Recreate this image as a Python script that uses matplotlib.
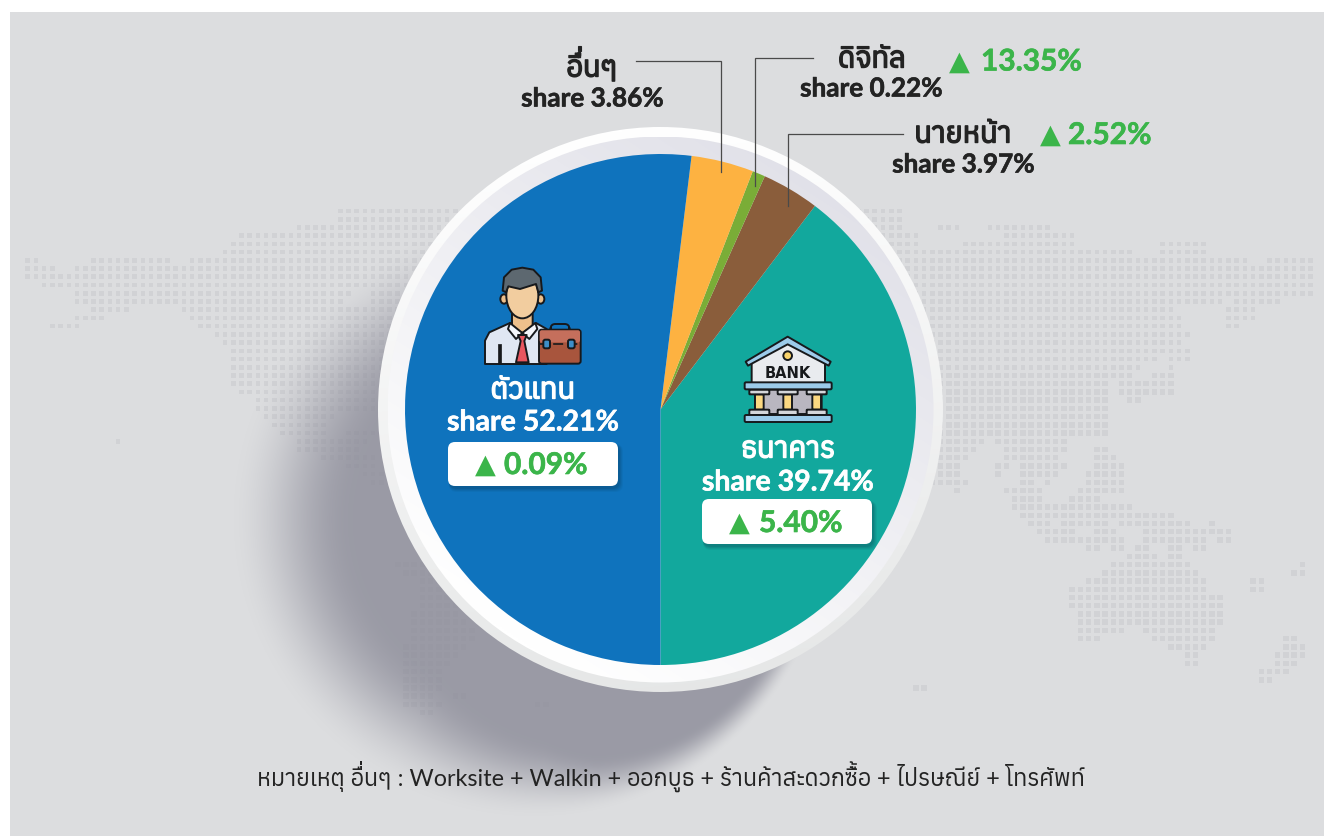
import numpy as np
import matplotlib
matplotlib.use('Agg')
import matplotlib.pyplot as plt
from matplotlib.patches import Circle, FancyBboxPatch, Polygon, Ellipse, PathPatch
from matplotlib.textpath import TextPath
from matplotlib.font_manager import FontProperties
from matplotlib.transforms import Affine2D
import matplotlib.patheffects as pe

W, H = 1324, 837

# ---------- data ----------
categories = ['ธนาคาร', 'นายหน้า', 'ดิจิทัล', 'อื่นๆ', 'ตัวแทน']
share_labels = ['39.74', '3.97', '0.22', '3.86', '52.21']
growth_labels = ['5.40', '2.52', '13.35', None, '0.09']
drawn_share = [39.67, 3.64, 0.81, 3.94, 51.94]   # slice sizes as drawn in the picture
colors = ['#12a89d', '#8a5d3b', '#7aad37', '#fdb241', '#0f73bd']
note = 'หมายเหตุ อื่นๆ : Worksite + Walkin + ออกบูธ + ร้านค้าสะดวกซื้อ + ไปรษณีย์ + โทรศัพท์'

# background dotted map: for each row, the runs of columns holding a dot
map_rows = {
 0:[(38,106)],1:[(38,106)],2:[(33,106),(111,113),(117,124)],3:[(26,108),(119,127)],
 4:[(25,108),(114,127),(138,143)],5:[(24,134),(138,143)],6:[(0,1),(8,17),(20,148),(151,156)],
 7:[(0,3),(6,156)],8:[(0,156)],9:[(2,156)],10:[(6,39),(42,156)],11:[(6,38),(42,145),(147,152)],
 12:[(8,12),(19,139),(146,149)],13:[(6,9),(20,140),(146,149)],14:[(3,6),(21,140),(146,147)],
 15:[(23,141)],16:[(24,140)],17:[(25,141)],18:[(25,137),(139,141)],19:[(25,135),(139,139)],
 20:[(25,134),(137,139)],21:[(25,131),(133,139)],22:[(26,131),(133,139)],23:[(28,131),(134,135)],
 24:[(28,131)],25:[(29,37),(100,131)],26:[(30,36),(100,131)],27:[(31,36),(39,42),(100,131)],
 28:[(11,11),(33,41),(100,116),(118,126)],29:[(33,40),(100,115),(119,126),(130,131)],
 30:[(36,42),(100,114),(119,125),(130,132)],31:[(39,42),(100,113),(118,119),(121,126),(130,133)],
 32:[(41,43),(100,113),(118,118),(121,125),(129,133)],33:[(42,44),(100,114),(121,122),(124,124),(129,133)],
 34:[(113,113),(119,123),(128,133)],35:[(120,123),(127,130)],36:[(120,134)],37:[(121,139)],
 38:[(122,124),(126,131),(133,141),(144,144)],39:[(123,127),(130,132),(136,146)],
 40:[(124,133),(136,143),(145,146)],41:[(129,130),(132,133),(135,136),(139,140),(142,143)],
 42:[(134,137),(139,140)],43:[(45,48),(132,141),(155,155)],44:[(46,49),(131,142),(154,155)],
 45:[(48,52),(129,143),(149,150)],46:[(48,52),(127,143),(149,150)],47:[(48,54),(127,145)],
 48:[(48,54),(127,145)],49:[(47,52),(128,145)],50:[(47,53),(128,145)],
 51:[(47,54),(128,133),(136,144)],52:[(47,54),(128,130),(137,144),(153,154)],
 53:[(46,53),(139,143),(153,155)],54:[(46,52),(141,142),(152,155)],55:[(46,51),(141,142),(152,154)],
 56:[(46,50),(150,153)],57:[(46,50),(150,151)],58:[(46,50),(108,109)],59:[(46,49),(52,53)],
 60:[(46,50),(62,63)],61:[(48,49)],
}

# ---------- canvas ----------
fig = plt.figure(figsize=(W/100, H/100), dpi=100, facecolor='white')
bg = fig.add_axes([0, 0, 1, 1], zorder=0)
fg = fig.add_axes([0, 0, 1, 1], zorder=2)
for a in (bg, fg):
    a.set_xlim(0, W); a.set_ylim(H, 0); a.axis('off')
fg.patch.set_alpha(0)

bg.add_patch(plt.Rectangle((9.5, 13), W, H, fc='#dcdddf', ec='none', zorder=0))

# dotted map
xs, ys, ss = [], [], []
for j, runs in map_rows.items():
    for a0, a1 in runs:
        for i in range(a0, a1 + 1):
            xs.append(27.7 + 8.224 * i); ys.append(212 + 8.224 * j)
            ss.append(15.5 if (j >= 20 and i > 100) or j >= 43 else 11)
bg.scatter(xs, ys, s=ss, marker='s', c='#d1d2d5', linewidths=0, zorder=1)

# soft cast shadow
yy, xx = np.mgrid[0:H, 0:W]
cx, cy, R = 530.0, 518.0, 302.0
dx, dy = xx - cx, yy - cy
d = np.hypot(dx, dy) + 1e-6
s = dx/d * 0.87 + dy/d * 0.49
width = np.interp(s, [-1, 0, .54, .7, 1], [125, 120, 78, 55, 28])
t = np.clip((R - d) / width, 0, 1)
alpha = t * t * (3 - 2 * t)
sh = np.zeros((H, W, 4))
sh[..., 0] = 0x8a/255; sh[..., 1] = 0x8a/255; sh[..., 2] = 0x97/255
sh[..., 3] = alpha * 0.8
sh[:13, :, 3] = 0
bg.imshow(sh, extent=(0, W, H, 0), zorder=2, aspect='auto', interpolation='bilinear')

# ring discs with gradients
def ring_disc(r, c0, c1, zorder, ux, uy):
    v, u = np.mgrid[-1:1:300j, -1:1:300j]
    g = np.clip((u*ux + v*uy) * 0.5 + 0.5, 0, 1)[..., None]
    img = np.array(c0)[None, None, :] * (1 - g) + np.array(c1)[None, None, :] * g
    im = bg.imshow(img, extent=(660.5 - r, 660.5 + r, 410.5 + r, 410.5 - r), zorder=zorder,
                   aspect='auto', interpolation='bilinear', origin='upper')
    im.set_clip_path(Circle((660.5, 410.5), r, transform=bg.transData))

ring_disc(282.5, (1, 1, 1), (0.90, 0.905, 0.905), 3, 0.1, 1.0)
ring_disc(273, (0.885, 0.885, 0.915), (1, 1, 1), 4, -0.55, 0.85)
bg.set_xlim(0, W); bg.set_ylim(H, 0)

# pie
r = 255.5
pa = fig.add_axes([(660.5 - r)/W, 1 - (410.5 + r)/H, 2*r/W, 2*r/H], zorder=1)
pa.pie(drawn_share, colors=colors, startangle=270, counterclock=True, radius=1,
       wedgeprops=dict(linewidth=0))
pa.set_xlim(-1, 1); pa.set_ylim(-1, 1); pa.patch.set_alpha(0)

# ---------- text ----------
LAT = ['Lato', 'Anuphan', 'DejaVu Sans']
GREEN = '#3bb54a'; DARK = '#232323'
rend = fig.canvas.get_renderer()

def label(x, y, s, size, color, ha='center', stroke=0.0, weight='bold'):
    tx = fg.text(x, y, s, fontsize=size, color=color, ha=ha, va='baseline',
                 family=LAT, weight=weight, zorder=20)
    if stroke:
        tx.set_path_effects([pe.withStroke(linewidth=stroke, foreground=color)])
    return tx

def raise_mark(tx, cons_idx, mark, rise, stroke=0.0):
    """Matplotlib does not stack Thai marks; lift the tone mark over the upper vowel."""
    s = tx.get_text()
    tmp = fg.text(0, 0, s[:cons_idx + 1], fontsize=tx.get_fontsize(), family=LAT,
                  weight=tx.get_weight())
    wd = tmp.get_window_extent(rend).width
    tmp.remove()
    x0 = tx.get_window_extent(rend).x0
    y0 = tx.get_position()[1]
    px = tx.get_fontsize() * 100 / 72
    path = TextPath((0, 0), mark, size=px, prop=FontProperties(family='Anuphan'))
    path = path.transformed(Affine2D().scale(1, -1).translate(x0 + wd, y0 - rise))
    fg.add_patch(PathPatch(path, fc=tx.get_color(), ec=tx.get_color(), lw=stroke, zorder=21))

def tri(x, y, size=19.5):
    fg.text(x, y, '▲', fontsize=size, color=GREEN, ha='left', va='baseline',
            family='DejaVu Sans', zorder=20)

def badge(x0, y0, x1, y1):
    for k, a in ((5, .06), (4, .08), (3, .10), (2, .12)):
        fg.add_patch(FancyBboxPatch((x0 + 1, y0 + 2), x1 - x0 + k - 1, y1 - y0 + k - 1,
                     boxstyle='round,pad=0,rounding_size=8', fc='#0b2f44', ec='none',
                     alpha=a, zorder=10))
    fg.add_patch(FancyBboxPatch((x0, y0), x1 - x0, y1 - y0, boxstyle='round,pad=0,rounding_size=7',
                 fc='white', ec='none', zorder=11))

TS = 21   # Thai heading size
SS = 18.8 # share size, top labels
BS = 20.5 # share size, labels on the slices
GS = 21.5 # growth size
ST = 0.45 # extra stroke of bold Latin text
# other
t_o = label(592, 77.5, categories[3], TS, DARK, stroke=1.0)
label(592.5, 107.5, f'share {share_labels[3]}%', SS, DARK, stroke=ST)
# digital
label(872, 68.5, categories[2], TS, DARK, stroke=1.0)
label(871.5, 97.5, f'share {share_labels[2]}%', SS, DARK, stroke=ST)
tri(948.5, 69.5); label(981, 71.5, f'{growth_labels[2]}%', GS, GREEN, ha='left', stroke=ST)
# broker
label(963, 143.5, categories[1], TS, DARK, stroke=1.0)
label(963.5, 173.5, f'share {share_labels[1]}%', SS, DARK, stroke=ST)
tri(1039.5, 143); label(1068, 145, f'{growth_labels[1]}%', GS, GREEN, ha='left', stroke=ST)
# agent
label(533, 399.5, categories[4], TS, 'white', stroke=1.0)
label(533, 431.5, f'share {share_labels[4]}%', BS, 'white', stroke=ST)
badge(448, 443, 618, 487)
tri(474.5, 473); label(504, 475, f'{growth_labels[4]}%', GS, GREEN, ha='left', stroke=ST)
# bank
label(788, 458.5, categories[0], TS, 'white', stroke=1.0)
label(788, 491.5, f'share {share_labels[0]}%', BS, 'white', stroke=ST)
badge(702, 500, 872, 545)
tri(728.5, 531); label(759, 533, f'{growth_labels[0]}%', GS, GREEN, ha='left', stroke=ST)

t_n = label(671, 786, note, 16.85, DARK, weight='normal')
raise_mark(t_o, 0, '\u0E48', 6.5, stroke=0.8)
raise_mark(t_n, note.index('อื่น'), '\u0E48', 5)
raise_mark(t_n, note.index('ซื้อ'), '\u0E49', 5)

# leader lines
for seg in ([(636, 62), (720.5, 62), (720.5, 173)],
            [(812.5, 59), (754.5, 59), (754.5, 187)],
            [(903, 135), (788, 135), (788, 207)]):
    fg.plot(*zip(*seg), color='#4a4a4a', lw=0.9, solid_joinstyle='miter', zorder=15)

# ---------- icons (drawn in crop-scale coordinates) ----------
INK = '#17191c'
def P(pts, o): return [(o[0] + a/3, o[1] + b/3) for a, b in pts]
def poly(pts, fc, o, ec=INK, lw=1.4, z=12):
    fg.add_patch(Polygon(P(pts, o), closed=True, fc=fc, ec=ec, lw=lw, joinstyle='round', zorder=z))
def rrect(x0, y0, x1, y1, fc, o, rad=6, ec=INK, lw=1.4, z=12):
    fg.add_patch(FancyBboxPatch((o[0] + x0/3, o[1] + y0/3), (x1 - x0)/3, (y1 - y0)/3,
                 boxstyle=f'round,pad=0,rounding_size={rad/3}', fc=fc, ec=ec, lw=lw, zorder=z))
def ell(x, y, rx, ry, fc, o, ec=INK, lw=1.4, z=12):
    fg.add_patch(Ellipse((o[0] + x/3, o[1] + y/3), 2*rx/3, 2*ry/3, fc=fc, ec=ec, lw=lw, zorder=z))

# agent
o = (430, 250)
poly([(165,345),(165,275),(178,250),(240,222),(277,250),(318,222),(350,240),(350,345)], '#e0e7f3', o)
poly([(205,345),(205,285),(212,285),(212,345)], INK, o, lw=0.5, z=13)
poly([(246,195),(308,195),(308,232),(277,252),(246,232)], '#eec08c', o, z=13)
ell(222, 150, 11, 14, '#eec08c', o, z=13)
ell(332, 150, 11, 14, '#eec08c', o, z=13)
ell(277, 140, 48, 68, '#f2cd9f', o, z=14)
poly([(218,125),(222,85),(245,62),(277,56),(310,62),(332,85),(336,125),(325,130),(318,105),(270,120),(235,112),(228,130)], '#5d6870', o, z=15)
poly([(240,222),(277,252),(258,270),(234,240)], '#f4f6fb', o, z=16)
poly([(316,222),(277,252),(298,270),(322,240)], '#f4f6fb', o, z=16)
poly([(264,258),(290,258),(283,276),(296,340),(258,340),(272,276)], '#e9565f', o, z=16)
rrect(362, 225, 418, 250, 'none', o, rad=14, z=16)
rrect(327, 242, 452, 344, '#a8553d', o, rad=8, z=17)
fg.add_patch(FancyBboxPatch((o[0]+329/3, o[1]+244/3), 121/3, 36/3, boxstyle='round,pad=0,rounding_size=2',
             fc='#c56f5c', ec='none', zorder=18))
fg.plot([o[0]+327/3, o[0]+452/3], [o[1]+286/3]*2, color=INK, lw=1.2, dashes=(6, 2.5), zorder=19)
rrect(340, 272, 360, 298, '#3d8fc9', o, rad=6, z=19)
rrect(414, 272, 434, 298, '#3d8fc9', o, rad=6, z=19)

# bank
o = (680, 320)
poly([(215,130),(323,72),(435,130),(435,192),(215,192)], '#e9ebef', o)
poly([(197,128),(323,53),(452,128),(446,140),(323,76),(204,140)], '#9ccbea', o, z=13)
ell(323, 110, 13, 13, '#f9d36b', o, z=13)
fg.text(o[0]+323/3, o[1]+174/3, 'BANK', fontsize=10.5, color=INK, ha='center', va='baseline',
        family='DejaVu Sans', weight='bold', zorder=14)
rrect(225, 212, 425, 285, '#b9b6c0', o, rad=1, z=12)
for c in (238, 323, 410):
    rrect(c-13, 226, c+13, 272, '#fbd881', o, rad=1, z=13)
    rrect(c-30, 212, c+30, 226, '#d4d6da', o, rad=2, z=14)
    rrect(c-30, 272, c+30, 288, '#d4d6da', o, rad=2, z=14)
rrect(194, 190, 455, 211, '#9ccbea', o, rad=4, z=15)
rrect(194, 288, 455, 309, '#9ccbea', o, rad=4, z=15)

fig.savefig('out.png', dpi=100, facecolor='white')
